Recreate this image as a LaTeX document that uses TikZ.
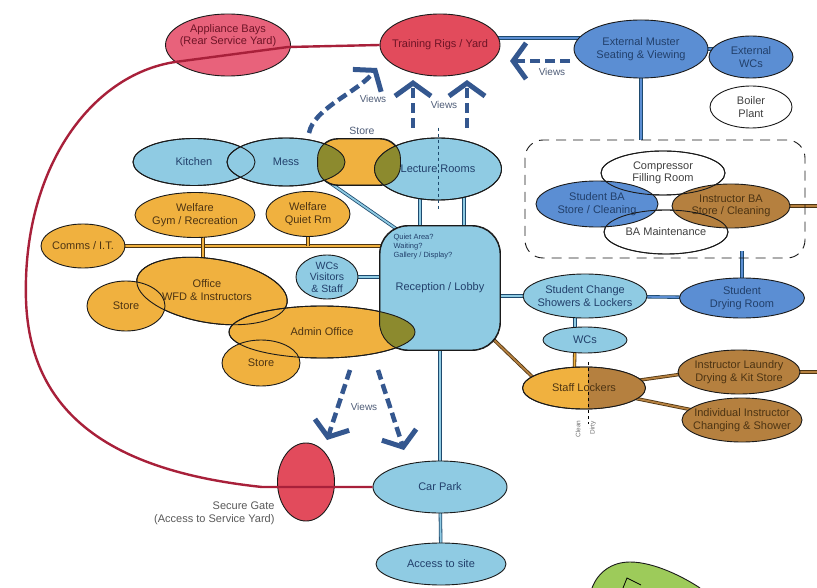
\documentclass[tikz,border=0pt]{standalone}
\usepackage{fontspec}
\setmainfont{Liberation Sans}
\usetikzlibrary{shapes.geometric,arrows.meta,backgrounds}

\definecolor{rigred}{HTML}{E24B5C}
\definecolor{baypink}{HTML}{E8627B}
\definecolor{paleblue}{HTML}{8FCBE3}
\definecolor{midblue}{HTML}{5B8ED3}
\definecolor{ochre}{HTML}{F0B13F}
\definecolor{kitbrown}{HTML}{B5803F}
\definecolor{olivemix}{HTML}{8C8A2E}
\definecolor{grass}{HTML}{9DCB5A}
\definecolor{navytext}{HTML}{22406B}
\definecolor{browntext}{HTML}{4D3413}
\definecolor{redtext}{HTML}{6E1426}
\definecolor{viewblue}{HTML}{34578F}
\definecolor{viewgrey}{HTML}{4F5D78}
\definecolor{linkdark}{HTML}{1E4A6E}
\definecolor{redline}{HTML}{A8203A}
\definecolor{edge}{HTML}{1A1A1A}

\begin{document}
\begin{tikzpicture}[x=1pt,y=-1pt,
    zone/.style={ellipse, draw=edge, line width=0.9pt, inner sep=-12pt, align=center,
      font=\fontsize{11}{12.5}\selectfont, text=navytext},
    bluezone/.style={zone, fill=paleblue},
    deepzone/.style={zone, fill=midblue},
    orangezone/.style={zone, fill=ochre, text=browntext},
    brownzone/.style={zone, fill=kitbrown, text=browntext},
    redzone/.style={zone, fill=rigred, text=redtext},
    plainzone/.style={zone, fill=white, text=black!75},
    outline/.style={draw=edge, line width=0.9pt},
    bluelink/.style={draw=linkdark, line width=0.8pt, double=paleblue, double distance=1.8pt},
    deeplink/.style={draw=linkdark, line width=0.8pt, double=midblue, double distance=1.8pt},
    orangelink/.style={draw=browntext, line width=0.8pt, double=ochre, double distance=1.8pt},
    brownlink/.style={draw=browntext, line width=0.8pt, double=kitbrown, double distance=1.8pt},
    views/.style={draw=viewblue, line width=4.5pt, dash pattern=on 10pt off 5pt,
      -{Straight Barb[length=13pt,width=36pt,line width'=5pt]}},
    viewtext/.style={font=\fontsize{10}{12}\selectfont, text=viewgrey},
  ]
  \useasboundingbox (0,0) rectangle (817,588);

  \node[redzone, fill=baypink, minimum width=125, minimum height=62] (App) at (228,45) {};
  \node[font=\fontsize{11}{12}\selectfont, text=redtext, align=center] (AppText) at (228,36) {Appliance Bays\\(Rear Service Yard)};
  \node[redzone, minimum width=120, minimum height=62] (Rigs) at (440,45) {Training Rigs / Yard};
  \node[deepzone, minimum width=134, minimum height=58] (Muster) at (641,49) {External Muster\\Seating \& Viewing};
  \node[deepzone, minimum width=84, minimum height=42] (ExtWC) at (751,57) {External\\WCs};
  \node[plainzone, minimum width=82, minimum height=42] (Boiler) at (751,107) {Boiler\\Plant};

  \node[draw=edge, line width=0.9pt, dash pattern=on 10pt off 7pt, rounded corners=18,
    minimum width=280, minimum height=118] (BAgroup) at (665,199) {};
  \node[plainzone, minimum width=124, minimum height=44] (Comp) at (663,173) {Compressor\\Filling Room};
  \node[plainzone, minimum width=124, minimum height=44] (BAMaint) at (666,232) {BA Maintenance};
  \node[deepzone, minimum width=122, minimum height=46] (StuBA) at (597,204) {Student BA\\Store / Cleaning};
  \node[brownzone, minimum width=118, minimum height=44] (InsBA) at (731,206) {Instructor BA\\Store / Cleaning};
  \draw[outline] (Comp.center) ellipse (62 and 22);
  \draw[outline] (BAMaint.center) ellipse (62 and 22);

  \node[bluezone, minimum width=122, minimum height=47] (Kitchen) at (194,162) {Kitchen};
  \node[bluezone, minimum width=118, minimum height=48] (Mess) at (286,162) {Mess};
  \node[orangezone, rectangle, rounded corners=20, minimum width=82, minimum height=46] (StoreT) at (359,162) {};
  \node[bluezone, minimum width=127, minimum height=62] (Lecture) at (438,169) {Lecture Rooms};
  \begin{scope}
    \clip[rounded corners=20] (StoreT.south west) rectangle (StoreT.north east);
    \fill[olivemix] (Mess.center) ellipse (59 and 24);
    \fill[olivemix] (Lecture.center) ellipse (63.5 and 31);
  \end{scope}
  \draw[outline] (Kitchen.center) ellipse (61 and 23.5);
  \draw[outline] (Mess.center) ellipse (59 and 24);
  \draw[outline, rounded corners=20] (StoreT.south west) rectangle (StoreT.north east);
  \draw[outline] (Lecture.center) ellipse (63.5 and 31);
  \draw[draw=linkdark, line width=0.9pt, dashed] ([yshift=10pt]Lecture.north) -- ([yshift=-10pt]Lecture.south);
  \node[viewtext, font=\fontsize{10.5}{12}\selectfont] (StoreTText) at (362,131) {Store};

  \node[orangezone, minimum width=120, minimum height=45] (Gym) at (195,215) {Welfare\\Gym / Recreation};
  \node[orangezone, minimum width=84, minimum height=45] (Quiet) at (308,214) {Welfare\\Quiet Rm};
  \node[orangezone, minimum width=84, minimum height=44] (Comms) at (83,246) {Comms / I.T.};

  \node[orangezone, minimum width=152, minimum height=64, rotate=-9] (Office) at (212,291) {};
  \node[orangezone, minimum width=78, minimum height=50] (StoreL) at (126,306) {Store};
  \node[orangezone, minimum width=186, minimum height=52] (Admin) at (322,332) {Admin Office};
  \node[orangezone, minimum width=78, minimum height=46] (StoreB) at (261,363) {Store};
  \draw[outline, rotate around={-9:(Office.center)}] (Office.center) ellipse (76 and 32);
  \node[font=\fontsize{11}{12.5}\selectfont, text=browntext, align=center] (OfficeText) at (207,290) {Office\\WFD \& Instructors};

  \node[bluezone, rectangle, rounded corners=28, minimum width=120, minimum height=124] (Recep) at (440,288) {Reception / Lobby};
  \begin{scope}
    \clip (Admin.center) ellipse (93 and 26);
    \fill[olivemix, rounded corners=28] (Recep.south west) rectangle (Recep.north east);
  \end{scope}
  \draw[outline] (Admin.center) ellipse (93 and 26);
  \draw[outline, rounded corners=28] (Recep.south west) rectangle (Recep.north east);
  \node[font=\fontsize{7.5}{8.8}\selectfont, text=navytext, align=left, anchor=north west] (RecepNote) at (390,231) {Quiet Area?\\Waiting?\\Gallery / Display?};
  \node[bluezone, minimum width=62, minimum height=44, font=\fontsize{10.5}{11.5}\selectfont] (VisWC) at (327,277) {WCs\\Visitors\\\& Staff};

  \node[bluezone, minimum width=124, minimum height=44] (StuChange) at (585,296) {Student Change\\Showers \& Lockers};
  \node[deepzone, minimum width=125, minimum height=40] (Drying) at (742,298) {Student\\Drying Room};
  \node[bluezone, minimum width=84, minimum height=26] (WC) at (585,340) {WCs};
  \node[orangezone, minimum width=123, minimum height=42] (Lockers) at (584,388) {};
  \begin{scope}
    \clip (Lockers.center) ellipse (61.5 and 21);
    \fill[kitbrown] (588,360) rectangle (650,420);
  \end{scope}
  \draw[outline] (Lockers.center) ellipse (61.5 and 21);
  \draw[line width=0.9pt, dashed] ([xshift=4pt,yshift=26pt]Lockers.center) -- ([xshift=4pt,yshift=-36pt]Lockers.center);
  \node[font=\fontsize{11}{12.5}\selectfont, text=browntext] (LockersText) at (Lockers.center) {Staff Lockers};
  \node[font=\fontsize{6.5}{7}\selectfont, text=black!55, rotate=90] (Clean) at (578,429) {Clean};
  \node[font=\fontsize{6.5}{7}\selectfont, text=black!55, rotate=90] (Dirty) at (593,428) {Dirty};
  \node[brownzone, minimum width=122, minimum height=44] (Laundry) at (739,372) {Instructor Laundry\\Drying \& Kit Store};
  \node[brownzone, minimum width=120, minimum height=44] (InsChange) at (742,420) {Individual Instructor\\Changing \& Shower};

  \node[bluezone, minimum width=134, minimum height=52] (CarPark) at (440,487) {Car Park};
  \node[bluezone, minimum width=130, minimum height=42] (Access) at (441,564) {Access to site};
  \node[redzone, minimum width=57, minimum height=78] (Gate) at (306,482) {};
  \node[font=\fontsize{11}{13}\selectfont, text=black!65, align=right, anchor=north east] (GateText) at (278,498) {Secure Gate\\(Access to Service Yard)};

  \draw[outline, fill=grass] (592,588) .. controls (598,572) and (612,562) .. (630,562)
    .. controls (655,562) and (685,578) .. (700,588);
  \draw[line width=0.8pt] (623,588) -- (627,578) -- (641,585);

  \coordinate (eastA) at (817,206);
  \coordinate (eastB) at (817,372);
  \begin{scope}[on background layer]
    \fill[white] (0,0) rectangle (817,588);
    \draw[deeplink] ([yshift=7pt]Rigs.center) -- ([yshift=7pt]Rigs.center -| Muster.center);
    \draw[deeplink] (Muster.center) -- (Muster.center -| ExtWC.center);
    \draw[deeplink] (Muster.south) -- (Muster.south |- BAgroup.north);
    \draw[brownlink] (InsBA.east) -- (eastA);
    \draw[deeplink, shorten >=-7pt] (Drying.north) -- (Drying.north |- BAgroup.south);
    \draw[bluelink] ([xshift=-18pt]Lecture.center) -- ([xshift=-18pt]Lecture.center |- Recep.center);
    \draw[bluelink] ([xshift=26pt]Lecture.center) -- ([xshift=26pt]Lecture.center |- Recep.center);
    \draw[bluelink] ([xshift=14pt]Mess.center) -- ([xshift=25pt,yshift=-9pt]Recep.north west);
    \draw[orangelink] (Comms.center) -- (Comms.center -| Recep.center);
    \draw[orangelink] ([xshift=8pt]Gym.center) -- ([xshift=8pt]Gym.center |- Office.center);
    \draw[orangelink] (Quiet.center) -- (Quiet.center |- Comms.center);
    \draw[bluelink] (VisWC.center) -- (VisWC.center -| Recep.center);
    \draw[bluelink] (Recep.center |- StuChange.center) -- (StuChange.center);
    \draw[deeplink] (StuChange.center) -- (Drying.center);
    \draw[bluelink] ([xshift=-10pt]StuChange.center) -- ([xshift=-10pt]WC.center);
    \draw[orangelink] ([xshift=-10pt]WC.center) -- ([xshift=-10pt]Lockers.center);
    \draw[brownlink] (Recep.center) -- ([xshift=-40pt]Lockers.center);
    \draw[brownlink] (Lockers.center) -- ([yshift=6pt]Laundry.center);
    \draw[brownlink] (Lockers.center) -- (InsChange.center);
    \draw[brownlink] (Laundry.center) -- (eastB);
    \draw[bluelink] (Recep.center) -- (CarPark.center);
    \draw[bluelink] (CarPark.center) -- (Access.center);
  \end{scope}

  \draw[redline, line width=2.4pt] (CarPark.west) -- (262,487)
    .. controls (120,472) and (30,420) .. (26,300)
    .. controls (22,170) and (90,75) .. (175,62)
    -- (288,47) -- (Rigs.west);

  \coordinate (v1s) at (309,133);
  \coordinate (v1e) at (377,68);
  \coordinate (v2s) at (413,128);
  \coordinate (v2e) at (413,80);
  \coordinate (v3s) at (467,128);
  \coordinate (v3e) at (467,80);
  \coordinate (v4s) at (570,61);
  \coordinate (v4e) at (510,61);
  \coordinate (v5s) at (350,370);
  \coordinate (v5e) at (327,440);
  \coordinate (v6s) at (378,370);
  \coordinate (v6e) at (404,450);
  \draw[views] (v1s) .. controls (314,108) and (358,92) .. (v1e);
  \draw[views] (v2s) -- (v2e);
  \draw[views] (v3s) -- (v3e);
  \draw[views] (v4s) -- (v4e);
  \draw[views] (v5s) -- (v5e);
  \draw[views] (v6s) -- (v6e);
  \node[viewtext] (ViewsA) at (373,99) {Views};
  \node[viewtext] (ViewsB) at (444,105) {Views};
  \node[viewtext] (ViewsC) at (552,72) {Views};
  \node[viewtext] (ViewsD) at (364,407) {Views};
\end{tikzpicture}
\end{document}
